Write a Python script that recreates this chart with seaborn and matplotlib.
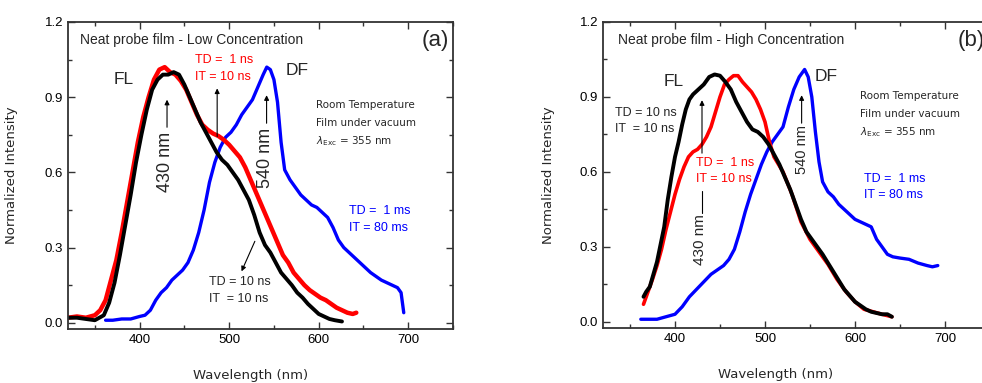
import matplotlib
matplotlib.use("Agg")
import matplotlib.pyplot as plt
import seaborn as sns
import pandas as pd
from matplotlib.ticker import MultipleLocator

sns.set_theme(style="ticks")
plt.rcParams['font.family'] = ['Liberation Sans', 'DejaVu Sans']

# ---------------- data ----------------
# Panel (a): low concentration
a_black_wl = [320, 330, 340, 350, 360, 366, 372, 378, 384, 390, 396, 402, 408, 414, 420, 426, 432, 438,
              444, 450, 456, 462, 468, 474, 480, 486, 492, 498, 504, 510, 516, 522, 528, 534, 540, 546,
              552, 558, 564, 570, 576, 582, 588, 594, 600, 606, 612, 618, 626]
a_black_int = [0.02, 0.02, 0.015, 0.01, 0.03, 0.08, 0.16, 0.27, 0.39, 0.51, 0.64, 0.75, 0.85, 0.93, 0.97,
               0.99, 0.99, 1.0, 0.99, 0.95, 0.90, 0.85, 0.80, 0.76, 0.72, 0.68, 0.65, 0.63, 0.60, 0.57,
               0.53, 0.49, 0.43, 0.36, 0.31, 0.28, 0.24, 0.20, 0.175, 0.15, 0.12, 0.10, 0.075, 0.055,
               0.035, 0.025, 0.015, 0.01, 0.005]

a_red_wl = [320, 330, 340, 350, 356, 362, 368, 374, 380, 386, 392, 398, 404, 410, 416, 422, 428, 434,
            440, 446, 452, 458, 464, 470, 476, 482, 488, 494, 500, 506, 512, 518, 524, 530, 536, 542,
            548, 554, 560, 566, 572, 578, 584, 590, 596, 602, 608, 614, 620, 626, 632, 638, 642]
a_red_int = [0.02, 0.025, 0.02, 0.03, 0.05, 0.09, 0.17, 0.25, 0.36, 0.48, 0.60, 0.72, 0.82, 0.90, 0.97,
             1.01, 1.02, 1.0, 0.99, 0.965, 0.93, 0.88, 0.83, 0.79, 0.77, 0.755, 0.745, 0.73, 0.71, 0.685,
             0.66, 0.62, 0.57, 0.52, 0.47, 0.42, 0.37, 0.32, 0.27, 0.24, 0.20, 0.175, 0.15, 0.13, 0.115,
             0.10, 0.09, 0.075, 0.06, 0.05, 0.04, 0.035, 0.04]

a_blue_wl = [362, 370, 380, 390, 400, 406, 412, 418, 424, 430, 436, 442, 448, 454, 460, 466, 472, 478,
             484, 490, 496, 502, 508, 514, 520, 526, 532, 538, 542, 546, 550, 554, 558, 562, 568, 574,
             580, 586, 592, 598, 604, 610, 616, 622, 628, 634, 640, 646, 652, 658, 664, 670, 676, 682,
             688, 692, 695]
a_blue_int = [0.01, 0.01, 0.015, 0.015, 0.025, 0.03, 0.05, 0.09, 0.12, 0.14, 0.17, 0.19, 0.21, 0.24,
              0.29, 0.36, 0.45, 0.56, 0.64, 0.70, 0.74, 0.76, 0.79, 0.83, 0.86, 0.89, 0.94, 0.99, 1.02,
              1.01, 0.97, 0.88, 0.72, 0.61, 0.57, 0.54, 0.51, 0.49, 0.47, 0.46, 0.44, 0.42, 0.38, 0.33,
              0.30, 0.28, 0.26, 0.24, 0.22, 0.20, 0.185, 0.17, 0.16, 0.15, 0.14, 0.12, 0.04]

# Panel (b): high concentration
b_black_wl = [365, 368, 372, 376, 380, 384, 388, 392, 396, 400, 404, 408, 412, 416, 420, 426, 432, 438,
              444, 450, 456, 462, 468, 474, 480, 486, 492, 498, 504, 510, 516, 522, 528, 534, 540, 546,
              552, 558, 564, 570, 576, 582, 588, 594, 600, 606, 612, 618, 624, 630, 636, 641]
b_black_int = [0.10, 0.12, 0.14, 0.19, 0.24, 0.31, 0.38, 0.49, 0.58, 0.66, 0.72, 0.79, 0.85, 0.89, 0.91,
               0.93, 0.95, 0.98, 0.99, 0.985, 0.96, 0.93, 0.88, 0.84, 0.80, 0.77, 0.76, 0.74, 0.71, 0.67,
               0.63, 0.58, 0.53, 0.47, 0.41, 0.36, 0.33, 0.30, 0.27, 0.235, 0.20, 0.165, 0.13, 0.105,
               0.08, 0.065, 0.05, 0.04, 0.035, 0.03, 0.03, 0.02]

b_red_wl = [365, 370, 375, 380, 385, 390, 395, 400, 405, 410, 415, 420, 425, 430, 435, 440, 445, 450,
            455, 460, 465, 470, 475, 480, 485, 490, 495, 500, 505, 510, 520, 530, 540, 550, 560, 570,
            580, 590, 600, 610, 620, 630, 641]
b_red_int = [0.07, 0.12, 0.17, 0.225, 0.29, 0.37, 0.44, 0.51, 0.57, 0.62, 0.66, 0.68, 0.69, 0.71, 0.74,
             0.78, 0.84, 0.90, 0.95, 0.97, 0.985, 0.985, 0.96, 0.94, 0.92, 0.89, 0.85, 0.80, 0.72, 0.66,
             0.60, 0.51, 0.40, 0.33, 0.28, 0.23, 0.17, 0.12, 0.08, 0.05, 0.04, 0.03, 0.02]

b_blue_wl = [362, 370, 380, 390, 400, 408, 416, 424, 432, 440, 448, 454, 460, 466, 472, 478, 484, 490,
             496, 502, 508, 514, 520, 526, 532, 538, 544, 548, 552, 556, 560, 564, 570, 576, 582, 588,
             594, 600, 606, 612, 618, 624, 630, 636, 642, 650, 660, 670, 680, 686, 692]
b_blue_int = [0.01, 0.01, 0.01, 0.02, 0.03, 0.06, 0.10, 0.13, 0.16, 0.19, 0.21, 0.225, 0.25, 0.29, 0.36,
              0.44, 0.51, 0.57, 0.63, 0.68, 0.72, 0.75, 0.78, 0.86, 0.93, 0.98, 1.01, 0.98, 0.90, 0.76,
              0.64, 0.56, 0.52, 0.50, 0.47, 0.45, 0.43, 0.41, 0.40, 0.39, 0.38, 0.33, 0.30, 0.27, 0.26,
              0.255, 0.25, 0.235, 0.225, 0.22, 0.225]

x_ticks = [400, 500, 600, 700]
y_ticks = [0.0, 0.3, 0.6, 0.9, 1.2]

RED = "#ff0000"
BLUE = "#0000ff"
BLACK = "#000000"
COMIC = ['DejaVu Sans']

fig = plt.figure(figsize=(9.82, 3.83), dpi=100)
axA = fig.add_axes([68 / 982, 54 / 383, 385 / 982, 307 / 383])
axB = fig.add_axes([603 / 982, 55 / 383, 387 / 982, 306 / 383])


def spectrum(ax, wl, val, color, lw):
    df = pd.DataFrame({"wl": wl, "val": val})
    sns.lineplot(data=df, x="wl", y="val", ax=ax, color=color, lw=lw,
                 estimator=None, sort=False)


def style_axes(ax, xlab_x):
    ax.set_xlim(320, 750)
    ax.set_ylim(-0.025, 1.2)
    ax.set_xticks(x_ticks)
    ax.set_yticks(y_ticks)
    ax.set_yticklabels([f"{v:.1f}" for v in y_ticks])
    ax.xaxis.set_minor_locator(MultipleLocator(50))
    ax.yaxis.set_minor_locator(MultipleLocator(0.15))
    ax.tick_params(which="both", direction="in", top=True, right=True, colors="#333333",
                   labelcolor="black", labelsize=9.5, width=1.0)
    ax.tick_params(which="major", length=5)
    ax.tick_params(which="minor", length=3)
    for s in ax.spines.values():
        s.set_linewidth(1.3)
        s.set_color("#333333")
    ax.set_xlabel("Wavelength (nm)", fontsize=9.5, family=COMIC)
    ax.set_ylabel("Normalized Intensity", fontsize=9.5, family=COMIC)
    ax.xaxis.set_label_coords(xlab_x, -0.13)


def arrow(ax, x0, y0, x1, y1):
    ax.annotate("", xy=(x1, y1), xytext=(x0, y0),
                arrowprops=dict(arrowstyle="-|>", lw=0.8, color="black", mutation_scale=7,
                                shrinkA=0, shrinkB=0))

# ---------------- panel (a) ----------------
spectrum(axA, a_blue_wl, a_blue_int, BLUE, 2.4)
spectrum(axA, a_red_wl, a_red_int, RED, 3.2)
spectrum(axA, a_black_wl, a_black_int, BLACK, 2.8)
style_axes(axA, 0.475)
axA.yaxis.set_label_coords(-0.13, 0.5)

axA.text(333, 1.127, "Neat probe film - Low Concentration", fontsize=10, va="center")
axA.text(745, 1.125, "(a)", fontsize=16, ha="right", va="center")
axA.text(371, 0.97, "FL", fontsize=12.5, va="center")
axA.text(563, 1.005, "DF", fontsize=12.5, va="center")
axA.text(462, 1.05, "TD =  1 ns", color=RED, fontsize=9, va="center")
axA.text(462, 0.98, "IT = 10 ns", color=RED, fontsize=9, va="center")
arrow(axA, 486.6, 0.743, 486.6, 0.935)
axA.text(429, 0.64, "430 nm", rotation=90, fontsize=13, ha="center", va="center")
arrow(axA, 430.6, 0.78, 430.6, 0.89)
axA.text(541, 0.656, "540 nm", rotation=90, fontsize=13, ha="center", va="center")
arrow(axA, 541.8, 0.796, 541.8, 0.908)
axA.text(597, 0.87, "Room Temperature", fontsize=7.5, va="center", family=COMIC)
axA.text(597, 0.796, "Film under vacuum", fontsize=7.5, va="center", family=COMIC)
axA.text(597, 0.723, r"$\lambda_{\mathrm{Exc}}$ = 355 nm", fontsize=7.5, va="center", family=COMIC)
axA.text(634, 0.447, "TD =  1 ms", color=BLUE, fontsize=9, va="center")
axA.text(634, 0.38, "IT = 80 ms", color=BLUE, fontsize=9, va="center")
axA.text(477.5, 0.162, "TD = 10 ns", fontsize=9, va="center")
axA.text(477.5, 0.095, "IT  = 10 ns", fontsize=9, va="center")
arrow(axA, 528.7, 0.325, 513.8, 0.205)

# ---------------- panel (b) ----------------
spectrum(axB, b_blue_wl, b_blue_int, BLUE, 2.4)
spectrum(axB, b_red_wl, b_red_int, RED, 2.6)
spectrum(axB, b_black_wl, b_black_int, BLACK, 2.8)
style_axes(axB, 0.445)
axB.yaxis.set_label_coords(-0.125, 0.5)

axB.text(337, 1.128, "Neat probe film - High Concentration", fontsize=10, va="center")
axB.text(714, 1.125, "(b)", fontsize=16, va="center")
axB.text(387, 0.963, "FL", fontsize=12.5, va="center")
axB.text(555.5, 0.983, "DF", fontsize=12.5, va="center")
axB.text(333.5, 0.834, "TD = 10 ns", fontsize=9, va="center")
axB.text(333.5, 0.771, "IT  = 10 ns", fontsize=9, va="center")
arrow(axB, 430, 0.675, 430, 0.887)
axB.text(423.5, 0.636, "TD =  1 ns", color=RED, fontsize=9, va="center")
axB.text(423.5, 0.572, "IT = 10 ns", color=RED, fontsize=9, va="center")
axB.text(428, 0.33, "430 nm", rotation=90, fontsize=11, ha="center", va="center")
axB.plot([429.5, 429.5], [0.437, 0.523], color="black", lw=0.8)
axB.text(540.7, 0.689, "540 nm", rotation=90, fontsize=10.5, ha="center", va="center")
arrow(axB, 540.7, 0.795, 540.7, 0.907)
axB.text(605.6, 0.903, "Room Temperature", fontsize=7.5, va="center", family=COMIC)
axB.text(605.6, 0.83, "Film under vacuum", fontsize=7.5, va="center", family=COMIC)
axB.text(605.6, 0.758, r"$\lambda_{\mathrm{Exc}}$ = 355 nm", fontsize=7.5, va="center", family=COMIC)
axB.text(610, 0.572, "TD =  1 ms", color=BLUE, fontsize=9, va="center")
axB.text(610, 0.506, "IT = 80 ms", color=BLUE, fontsize=9, va="center")

fig.savefig("out.png", dpi=100)
